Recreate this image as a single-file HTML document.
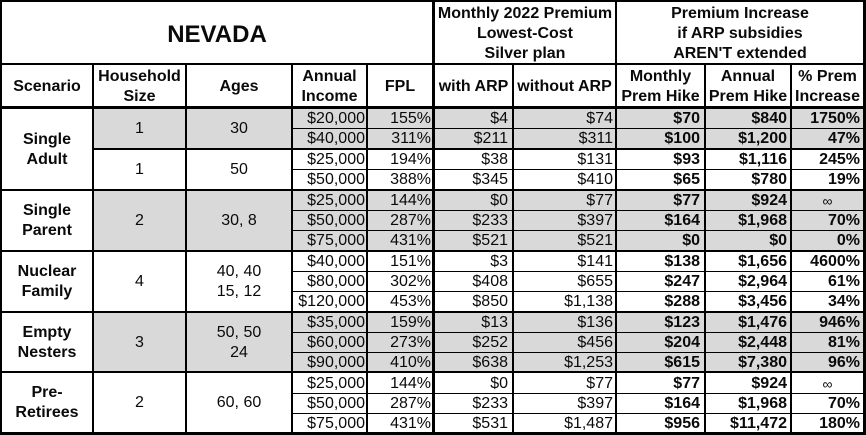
<!DOCTYPE html>
<html><head><meta charset="utf-8"><style>
*{margin:0;padding:0;box-sizing:border-box}
body{width:866px;height:435px;background:#fff;position:relative;overflow:hidden;font-family:"Liberation Sans",Arial,sans-serif;color:#0a0a0a}
.f{position:absolute;background:#d9d9d9}
.l{position:absolute;background:#000}
.t{position:absolute;display:flex;align-items:center;justify-content:center;text-align:center;font-size:16px;line-height:20px}
.b{font-weight:bold}
.r{position:absolute;font-size:16px}
.r span{position:absolute;top:0;text-align:right;white-space:nowrap}
.r .a{left:293px;width:72px}
.r .p{left:368px;width:63px}
.r .w{left:435px;width:73px}
.r .o{left:514px;width:99px}
.r .m{left:617px;width:83px;font-weight:bold}
.r .n{left:706px;width:81px;font-weight:bold}
.r .q{left:792px;width:68px;font-weight:bold}
.r .inf{text-align:center;left:792px;width:71px;font-weight:normal;font-size:14px}
</style></head><body>
<!-- fills -->
<div class="f" style="left:94px;top:108px;width:770px;height:41px"></div>
<div class="f" style="left:94px;top:191px;width:770px;height:60px"></div>
<div class="f" style="left:94px;top:313px;width:770px;height:59px"></div>

<!-- horizontal lines -->
<div class="l" style="left:0;top:0;width:866px;height:2px"></div>
<div class="l" style="left:0;top:63px;width:866px;height:2px"></div>
<div class="l" style="left:0;top:106px;width:866px;height:3px"></div>
<div class="l" style="left:293px;top:128px;width:573px;height:1px"></div>
<div class="l" style="left:93px;top:148px;width:773px;height:2px"></div>
<div class="l" style="left:293px;top:169px;width:573px;height:1px"></div>
<div class="l" style="left:0;top:189px;width:866px;height:2px"></div>
<div class="l" style="left:293px;top:210px;width:573px;height:1px"></div>
<div class="l" style="left:293px;top:230px;width:573px;height:1px"></div>
<div class="l" style="left:0;top:250px;width:866px;height:2px"></div>
<div class="l" style="left:293px;top:271px;width:573px;height:1px"></div>
<div class="l" style="left:293px;top:291px;width:573px;height:1px"></div>
<div class="l" style="left:0;top:311px;width:866px;height:2px"></div>
<div class="l" style="left:293px;top:332px;width:573px;height:1px"></div>
<div class="l" style="left:293px;top:352px;width:573px;height:1px"></div>
<div class="l" style="left:0;top:371px;width:866px;height:2px"></div>
<div class="l" style="left:293px;top:393px;width:573px;height:1px"></div>
<div class="l" style="left:293px;top:413px;width:573px;height:1px"></div>
<div class="l" style="left:0;top:432px;width:866px;height:3px"></div>

<!-- vertical lines -->
<div class="l" style="left:0;top:0;width:2px;height:435px"></div>
<div class="l" style="left:863px;top:0;width:3px;height:435px"></div>
<div class="l" style="left:432px;top:0;width:3px;height:435px"></div>
<div class="l" style="left:615px;top:0;width:2px;height:435px"></div>
<div class="l" style="left:92px;top:64px;width:2px;height:371px"></div>
<div class="l" style="left:185px;top:64px;width:2px;height:371px"></div>
<div class="l" style="left:291px;top:64px;width:2px;height:371px"></div>
<div class="l" style="left:366px;top:64px;width:2px;height:371px"></div>
<div class="l" style="left:512px;top:64px;width:2px;height:371px"></div>
<div class="l" style="left:704px;top:64px;width:2px;height:371px"></div>
<div class="l" style="left:790px;top:64px;width:2px;height:371px"></div>

<!-- header row 1 -->
<div class="t b" style="left:2px;top:5px;width:430px;height:59px;font-size:24px">NEVADA</div>
<div class="t b" style="left:435px;top:4px;width:180px;height:60px">Monthly 2022 Premium<br>Lowest-Cost<br>Silver plan</div>
<div class="t b" style="left:617px;top:4px;width:246px;height:60px">Premium Increase<br>if ARP subsidies<br>AREN'T extended</div>

<!-- header row 2 -->
<div class="t b" style="left:2px;top:67px;width:90px;height:40px">Scenario</div>
<div class="t b" style="left:94px;top:67px;width:91px;height:40px">Household<br>Size</div>
<div class="t b" style="left:187px;top:67px;width:104px;height:40px">Ages</div>
<div class="t b" style="left:293px;top:67px;width:73px;height:40px">Annual<br>Income</div>
<div class="t b" style="left:368px;top:67px;width:64px;height:40px">FPL</div>
<div class="t b" style="left:435px;top:67px;width:77px;height:40px">with ARP</div>
<div class="t b" style="left:514px;top:67px;width:101px;height:40px">without ARP</div>
<div class="t b" style="left:617px;top:67px;width:87px;height:40px">Monthly<br>Prem Hike</div>
<div class="t b" style="left:706px;top:67px;width:84px;height:40px">Annual<br>Prem Hike</div>
<div class="t b" style="left:792px;top:67px;width:71px;height:40px">% Prem<br>Increase</div>

<!-- scenario column -->
<div class="t b" style="left:2px;top:110px;width:90px;height:80px">Single<br>Adult</div>
<div class="t b" style="left:2px;top:191px;width:90px;height:60px">Single<br>Parent</div>
<div class="t b" style="left:2px;top:252px;width:90px;height:60px">Nuclear<br>Family</div>
<div class="t b" style="left:2px;top:313px;width:90px;height:59px">Empty<br>Nesters</div>
<div class="t b" style="left:2px;top:373px;width:90px;height:60px">Pre-<br>Retirees</div>

<!-- household / ages -->
<div class="t" style="left:94px;top:109px;width:91px;height:40px">1</div>
<div class="t" style="left:187px;top:109px;width:104px;height:40px">30</div>
<div class="t" style="left:94px;top:150px;width:91px;height:40px">1</div>
<div class="t" style="left:187px;top:150px;width:104px;height:40px">50</div>
<div class="t" style="left:94px;top:191px;width:91px;height:60px">2</div>
<div class="t" style="left:187px;top:191px;width:104px;height:60px">30, 8</div>
<div class="t" style="left:94px;top:252px;width:91px;height:60px">4</div>
<div class="t" style="left:187px;top:252px;width:104px;height:60px">40, 40<br>15, 12</div>
<div class="t" style="left:94px;top:313px;width:91px;height:59px">3</div>
<div class="t" style="left:187px;top:313px;width:104px;height:59px">50, 50<br>24</div>
<div class="t" style="left:94px;top:373px;width:91px;height:60px">2</div>
<div class="t" style="left:187px;top:373px;width:104px;height:60px">60, 60</div>

<!-- data rows -->
<div class="r" style="top:109px;height:20px;line-height:20px"><span class="a">$20,000</span><span class="p">155%</span><span class="w">$4</span><span class="o">$74</span><span class="m">$70</span><span class="n">$840</span><span class="q">1750%</span></div>
<div class="r" style="top:129px;height:20px;line-height:20px"><span class="a">$40,000</span><span class="p">311%</span><span class="w">$211</span><span class="o">$311</span><span class="m">$100</span><span class="n">$1,200</span><span class="q">47%</span></div>
<div class="r" style="top:150px;height:20px;line-height:20px"><span class="a">$25,000</span><span class="p">194%</span><span class="w">$38</span><span class="o">$131</span><span class="m">$93</span><span class="n">$1,116</span><span class="q">245%</span></div>
<div class="r" style="top:170px;height:20px;line-height:20px"><span class="a">$50,000</span><span class="p">388%</span><span class="w">$345</span><span class="o">$410</span><span class="m">$65</span><span class="n">$780</span><span class="q">19%</span></div>
<div class="r" style="top:191px;height:20px;line-height:20px"><span class="a">$25,000</span><span class="p">144%</span><span class="w">$0</span><span class="o">$77</span><span class="m">$77</span><span class="n">$924</span><span class="inf">∞</span></div>
<div class="r" style="top:211px;height:20px;line-height:20px"><span class="a">$50,000</span><span class="p">287%</span><span class="w">$233</span><span class="o">$397</span><span class="m">$164</span><span class="n">$1,968</span><span class="q">70%</span></div>
<div class="r" style="top:231px;height:20px;line-height:20px"><span class="a">$75,000</span><span class="p">431%</span><span class="w">$521</span><span class="o">$521</span><span class="m">$0</span><span class="n">$0</span><span class="q">0%</span></div>
<div class="r" style="top:252px;height:20px;line-height:20px"><span class="a">$40,000</span><span class="p">151%</span><span class="w">$3</span><span class="o">$141</span><span class="m">$138</span><span class="n">$1,656</span><span class="q">4600%</span></div>
<div class="r" style="top:272px;height:20px;line-height:20px"><span class="a">$80,000</span><span class="p">302%</span><span class="w">$408</span><span class="o">$655</span><span class="m">$247</span><span class="n">$2,964</span><span class="q">61%</span></div>
<div class="r" style="top:292px;height:20px;line-height:20px"><span class="a">$120,000</span><span class="p">453%</span><span class="w">$850</span><span class="o">$1,138</span><span class="m">$288</span><span class="n">$3,456</span><span class="q">34%</span></div>
<div class="r" style="top:313px;height:20px;line-height:20px"><span class="a">$35,000</span><span class="p">159%</span><span class="w">$13</span><span class="o">$136</span><span class="m">$123</span><span class="n">$1,476</span><span class="q">946%</span></div>
<div class="r" style="top:333px;height:20px;line-height:20px"><span class="a">$60,000</span><span class="p">273%</span><span class="w">$252</span><span class="o">$456</span><span class="m">$204</span><span class="n">$2,448</span><span class="q">81%</span></div>
<div class="r" style="top:353px;height:19px;line-height:19px"><span class="a">$90,000</span><span class="p">410%</span><span class="w">$638</span><span class="o">$1,253</span><span class="m">$615</span><span class="n">$7,380</span><span class="q">96%</span></div>
<div class="r" style="top:374px;height:20px;line-height:20px"><span class="a">$25,000</span><span class="p">144%</span><span class="w">$0</span><span class="o">$77</span><span class="m">$77</span><span class="n">$924</span><span class="inf">∞</span></div>
<div class="r" style="top:394px;height:20px;line-height:20px"><span class="a">$50,000</span><span class="p">287%</span><span class="w">$233</span><span class="o">$397</span><span class="m">$164</span><span class="n">$1,968</span><span class="q">70%</span></div>
<div class="r" style="top:414px;height:19px;line-height:19px"><span class="a">$75,000</span><span class="p">431%</span><span class="w">$531</span><span class="o">$1,487</span><span class="m">$956</span><span class="n">$11,472</span><span class="q">180%</span></div>
</body></html>
